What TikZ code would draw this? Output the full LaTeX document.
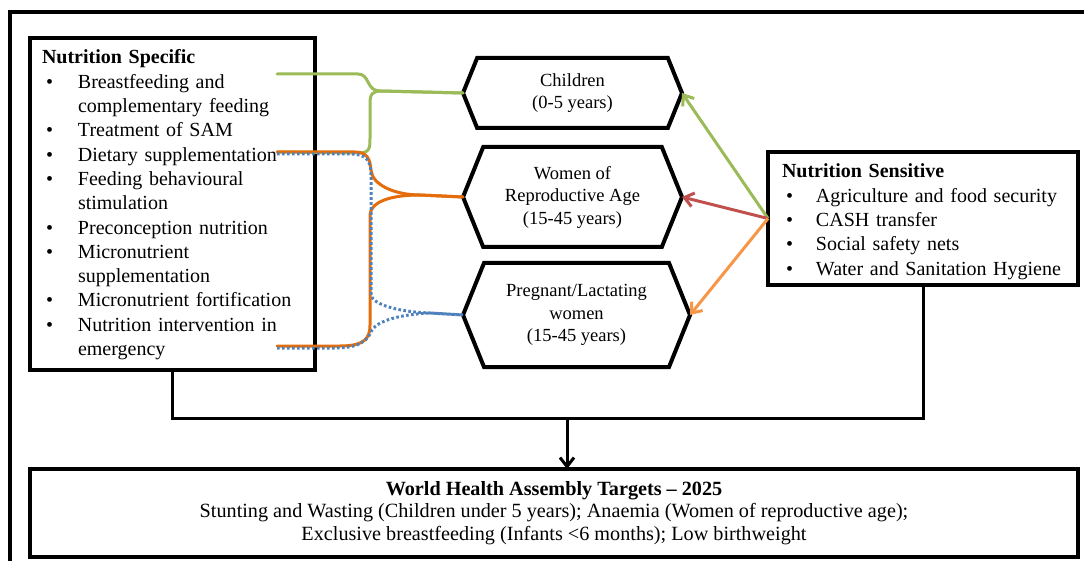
\documentclass[tikz,border=0pt]{standalone}
\usepackage{fontspec}
\setmainfont{Liberation Serif}
\usepackage{xcolor}
\usetikzlibrary{arrows.meta, shapes.symbols}

\definecolor{leafgreen}{HTML}{9BBB59}
\definecolor{brickred}{HTML}{C0504D}
\definecolor{lightorange}{HTML}{F79646}
\definecolor{deeporange}{HTML}{E46C0A}
\definecolor{steelblue}{HTML}{4F81BD}

% bullet line with hanging indent
\newcommand{\bitem}[2][36pt]{\par\noindent\hangindent=#1\hangafter=1\hbox to #1{\hspace{4pt}\textbullet\hfil}#2}

\begin{document}
\begin{tikzpicture}[x=1pt, y=-1pt, >={Straight Barb[length=9pt,width=14pt]},
    listbox/.style={draw, line width=4pt, outer sep=0pt, anchor=north west, align=left,
        inner xsep=12pt, inner ysep=10pt, text height=16pt, font=\fontsize{20}{24.3}\selectfont},
    group/.style={signal, signal to=east and west, signal pointer angle=136, draw,
        line width=4pt, outer sep=0pt, align=center, inner sep=0pt,
        font=\fontsize{18.5}{22.5}\selectfont},
    brace/.style={line width=3pt, line cap=round},
    dots/.style={brace, steelblue, line cap=butt, dash pattern=on 2.6pt off 2.4pt},
    link/.style={line width=3pt, ->}]
    \path[use as bounding box, clip] (0,0) rectangle (1084,561);

    % outer frame
    \draw[line width=4pt] (10,12) rectangle (1110,600);

    \node[listbox, text width=261pt, text depth=296pt] (spec) at (30,38) {
        \textbf{Nutrition Specific}
        \bitem{Breastfeeding and\break complementary feeding}
        \bitem{Treatment of SAM}
        \bitem{Dietary supplementation}
        \bitem{Feeding behavioural\break stimulation}
        \bitem{Preconception nutrition}
        \bitem{Micronutrient\break supplementation}
        \bitem{Micronutrient fortification}
        \bitem{Nutrition intervention in\break emergency}\par
    };

    \node[listbox, inner xsep=14pt, text width=282pt, text depth=97pt] (sens) at (768,152) {
        \textbf{Nutrition Sensitive}
        \bitem[34pt]{Agriculture and food security}
        \bitem[34pt]{CASH transfer}
        \bitem[34pt]{Social safety nets}
        \bitem[34pt]{Water and Sanitation Hygiene}\par
    };

    \node[group, minimum width=219pt, minimum height=70pt] (child) at (572.5,93) {Children\\(0-5 years)};
    \node[group, minimum width=219pt, minimum height=100pt] (women) at (572.5,197) {Women of\\Reproductive Age\\(15-45 years)};
    \node[group, minimum width=227pt, minimum height=104pt] (preg) at (576.5,315) {Pregnant/Lactating\\women\\(15-45 years)};

    \node[draw, line width=4pt, outer sep=0pt, anchor=north west, minimum width=1048pt,
        minimum height=88pt, align=center, font=\fontsize{20.2}{22.5}\selectfont] (wha) at (30,469) {
        \textbf{World Health Assembly Targets -- 2025}\\
        Stunting and Wasting (Children under 5 years); Anaemia (Women of reproductive age);\\
        Exclusive breastfeeding (Infants <6 months); Low birthweight};

    % ends of the list lines
    \coordinate (bf) at (277,74);
    \coordinate (ds) at (277,152);
    \coordinate (em) at (277,346);
    \coordinate (mid) at (567,418);

    % braces
    \draw[brace, leafgreen] (bf) -- (358,74) .. controls (370,74) and (366,91) .. (380,91) -- (child.west);
    \draw[brace, leafgreen] (ds) -- (358,153) .. controls (370,153) and (370,148) .. (370,138)
        -- (370,104) .. controls (370,94) and (372,91) .. (382,91) -- (child.west);
    \draw[brace, deeporange] (ds) -- (355,152) .. controls (368,152) and (370,160) .. (371,170)
        .. controls (372,185) and (395,195) .. (420,195) -- (women.west);
    \draw[brace, deeporange] (em) -- (340,346) .. controls (365,346) and (370,338) .. (370,325)
        -- (370,215) .. controls (371,200) and (395,195) .. (420,195) -- (women.west);
    \draw[dots] ([yshift=-2pt]ds) -- (350,154) .. controls (366,154) and (371,160) .. (371,175)
        -- (371,295) .. controls (373,305) and (400,312) .. (430,313) -- (preg.west);
    \draw[dots] ([yshift=-2pt]em) -- (335,348) .. controls (360,348) and (368,340) .. (372,330)
        .. controls (380,318) and (410,314) .. (430,313) -- (preg.west);

    % sensitive arrows
    \draw[link, leafgreen] (sens.west) -- (child.east);
    \draw[link, brickred] (sens.west) -- (women.east);
    \draw[link, lightorange] (sens.west) -- (preg.east);

    % to targets
    \draw[line width=3pt] (spec.south) |- (mid) -| (sens.south);
    \draw[link] (mid) -- (mid |- wha.north);
\end{tikzpicture}
\end{document}
